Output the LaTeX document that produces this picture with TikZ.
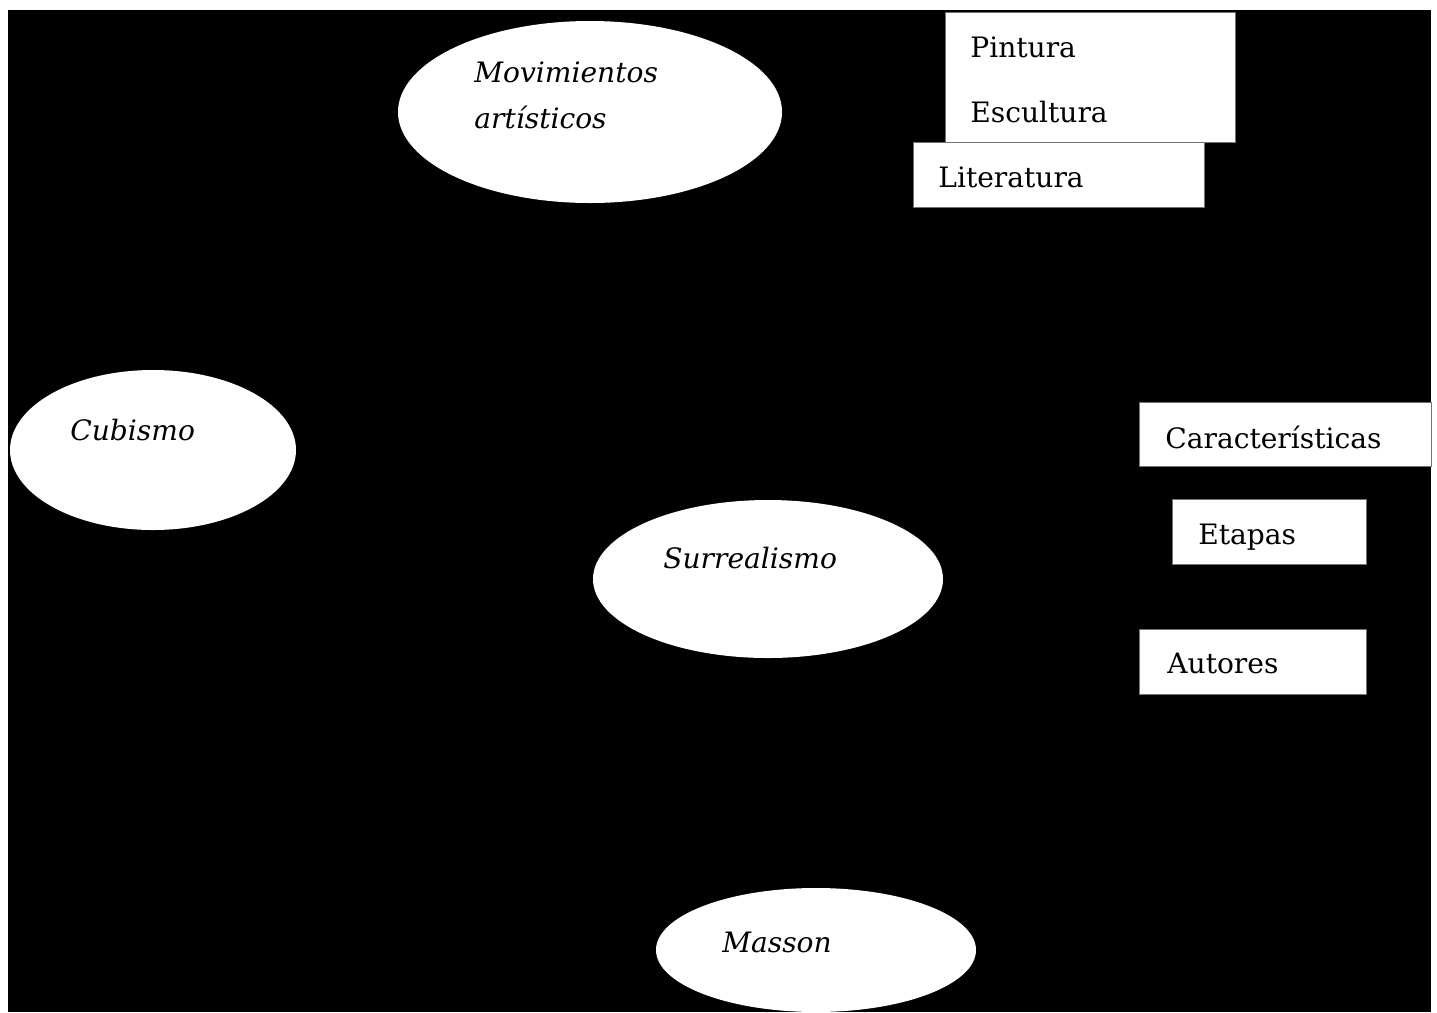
\documentclass[tikz,border=0pt]{standalone}
\usepackage{fontspec}
\setmainfont{DejaVu Serif}
\usetikzlibrary{shapes.geometric}
\newcommand{\txtsiz}{\fontsize{16}{19}\selectfont}
\tikzset{
    concepto/.style={ellipse, fill=white, inner sep=0pt},
    casilla/.style={fill=white, draw=black!55, line width=0.5pt},
    rotulo/.style={anchor=base west, inner sep=0pt, font=\txtsiz},
}
% ovalo: nombre, cx, cy, rx, ry (en pixeles)
\newcommand{\ovalo}[5]{
    \node[concepto, minimum width={2*#4*0.02cm}, minimum height={2*#5*0.02cm}] (#1) at (#2,#3) {};
}
\newcommand{\caja}[4]{
    \filldraw[casilla] (#1,#2) rectangle (#3,#4);
}

\begin{document}
\begin{tikzpicture}[x=0.02cm, y=-0.02cm]
    \fill[white] (0,0) rectangle (1437,1012);
    \useasboundingbox (0,0) rectangle (1437,1012);
    \fill[black] (8,10) rectangle (1431,1012);

    \ovalo{movim}{590}{112}{192}{91};
    \node[rotulo] (movimA) at (474,82) {\itshape Movimientos};
    \node[rotulo] (movimB) at (474,128) {\itshape artísticos};

    \caja{945}{12}{1235}{142};
    \node[rotulo] (pintura) at (970,57) {Pintura};
    \node[rotulo] (escultura) at (970,122) {Escultura};

    \caja{913}{142}{1204}{207};
    \node[rotulo] (literatura) at (938,187) {Literatura};

    \ovalo{cubismo}{153}{450}{143}{80};
    \node[rotulo] (cubismotxt) at (70,440) {\itshape Cubismo};

    \ovalo{surreal}{768}{579}{175}{79};
    \node[rotulo] (surrealtxt) at (663,568) {\itshape Surrealismo};

    \ovalo{masson}{816}{950}{160}{62};
    \node[rotulo] (massontxt) at (722,952) {\itshape Masson};

    \caja{1139}{402}{1431}{466};
    \node[rotulo] (caract) at (1165,448) {Características};

    \caja{1172}{499}{1366}{564};
    \node[rotulo] (etapas) at (1198,544) {Etapas};

    \caja{1139}{629}{1366}{694};
    \node[rotulo] (autores) at (1167,673) {Autores};

\end{tikzpicture}
\end{document}
